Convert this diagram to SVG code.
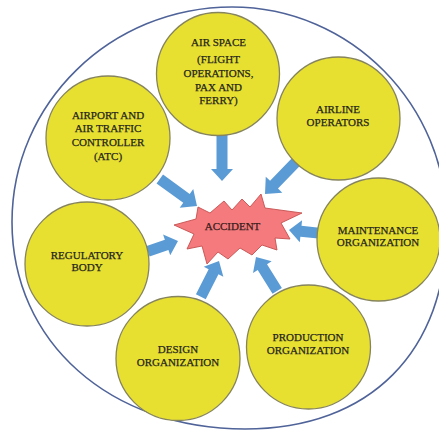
<svg xmlns="http://www.w3.org/2000/svg" width="439" height="430" viewBox="0 0 439 430">
  <defs>
    <style>
      .frame { fill: #ffffff; stroke: #4f6399; stroke-width: 1.6; }
      .node { fill: #e8e031; stroke: #86845c; stroke-width: 1.3; }
      .lbl { font-family: "Liberation Serif", "Times New Roman", serif; font-size: 11px; fill: #26261c; stroke: #26261c; stroke-width: 0.25; text-anchor: middle; }
      .arrow { fill: #5b9bd5; }
      .burst { fill: #f47a7d; stroke: #c4504f; stroke-width: 0.9; }
      .burst-lbl { font-family: "Liberation Serif", "Times New Roman", serif; font-size: 11px; fill: #3a1c1c; stroke: #3a1c1c; stroke-width: 0.25; text-anchor: middle; }
    </style>
  </defs>

  <rect width="439" height="430" fill="#ffffff"/>
  <!-- enclosing boundary -->
  <path class="frame" d="M232,7 C351,7 447,105 447,225 C447,352 370,429 245,429 C110,429 12,342 12,222 C12,103 111,7 232,7 Z"/>

  <!-- connectors: block arrows, tip at the transform origin -->
  <g id="connectors" class="arrow">
    <path transform="translate(222,181) rotate(90)" d="M-46,-5.5 H-12 V-11 L0,0 L-12,11 V5.5 H-46 Z"/>
    <path transform="translate(197,206) rotate(36)" d="M-46,-5.5 H-13 V-11.5 L0,0 L-13,11.5 V5.5 H-46 Z"/>
    <path transform="translate(265,194) rotate(134)" d="M-44,-5.5 H-13 V-11.5 L0,0 L-13,11.5 V5.5 H-44 Z"/>
    <path transform="translate(289,230) rotate(186)" d="M-30,-5.5 H-12 V-11 L0,0 L-12,11 V5.5 H-30 Z"/>
    <path transform="translate(178,241) rotate(-19)" d="M-32,-5.5 H-12 V-11 L0,0 L-12,11 V5.5 H-32 Z"/>
    <path transform="translate(219,261) rotate(-63)" d="M-40,-5.5 H-12 V-11 L0,0 L-12,11 V5.5 H-40 Z"/>
    <path transform="translate(256,257) rotate(-122)" d="M-40,-5.5 H-12 V-11 L0,0 L-12,11 V5.5 H-40 Z"/>
  </g>

  <!-- central burst -->
  <g id="accident">
    <polygon class="burst" points="174,225 196,219 198,207 210,213 224,201 232,210 242,199 250,207 261,194 265,208 302,213 281,223 290,239 275,238 277,250 262,245 252,255 240,248 228,259 218,252 207,264 202,246 187,249 194,234"/>
    <text class="burst-lbl" x="232.5" y="230">ACCIDENT</text>
  </g>

  <g id="air-space">
    <circle class="node" cx="218" cy="74" r="61.5"/>
    <text class="lbl" x="218.5" y="45.5">AIR SPACE</text>
    <text class="lbl" x="218.5" y="62.5">(FLIGHT</text>
    <text class="lbl" x="218.5" y="76.5">OPERATIONS,</text>
    <text class="lbl" x="218.5" y="90.5">PAX AND</text>
    <text class="lbl" x="218.5" y="103.5">FERRY)</text>
  </g>

  <g id="airline-operators">
    <circle class="node" cx="338.5" cy="118.5" r="61.5"/>
    <text class="lbl" x="338" y="112.5">AIRLINE</text>
    <text class="lbl" x="338" y="125.5">OPERATORS</text>
  </g>

  <g id="airport-atc">
    <circle class="node" cx="108" cy="138" r="62"/>
    <text class="lbl" x="108" y="118.5">AIRPORT AND</text>
    <text class="lbl" x="108" y="132">AIR TRAFFIC</text>
    <text class="lbl" x="108" y="146">CONTROLLER</text>
    <text class="lbl" x="108" y="159.5">(ATC)</text>
  </g>

  <g id="maintenance-organization">
    <circle class="node" cx="378.5" cy="239.5" r="61.5"/>
    <text class="lbl" x="378" y="233.5">MAINTENANCE</text>
    <text class="lbl" x="378" y="246">ORGANIZATION</text>
  </g>

  <g id="regulatory-body">
    <circle class="node" cx="87" cy="264" r="62"/>
    <text class="lbl" x="87" y="258.5">REGULATORY</text>
    <text class="lbl" x="87" y="271">BODY</text>
  </g>

  <g id="design-organization">
    <circle class="node" cx="178" cy="358.5" r="62"/>
    <text class="lbl" x="178" y="353">DESIGN</text>
    <text class="lbl" x="178" y="365.5">ORGANIZATION</text>
  </g>

  <g id="production-organization">
    <circle class="node" cx="308.5" cy="347" r="62"/>
    <text class="lbl" x="308" y="341">PRODUCTION</text>
    <text class="lbl" x="308" y="353.5">ORGANIZATION</text>
  </g>
</svg>
